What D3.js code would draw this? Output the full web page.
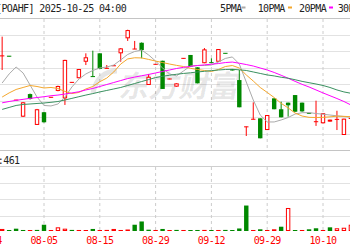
<!DOCTYPE html>
<html>
<head>
<meta charset="utf-8">
<script src="https://cdn.jsdelivr.net/npm/d3@7/dist/d3.min.js"></script>
<style>
  body { margin: 0; background: #fff; }
  svg { display: block; }
  .mono { font-family: "DejaVu Sans Mono", "Liberation Mono", monospace; font-size: 10px; letter-spacing: -0.6px; }
</style>
</head>
<body>
<div id="chart"></div>
<script>
// daily candles, index 0 = 08-05, a date label sits on every 8th candle
var dayIdx = d3.range(-6, 45);

var open  = [41.75, 41.76, 39.07, 38.08, 39.45, 37.58, 38.35, 39.24, 39.64, 39.19, 40.14, 40.41, 41.41, 40.52, 41.92, 40.99, 41.15,
             41.92, 42.83, 42.17, 42.56, 40.00, 41.24, 41.47, 40.35, 39.90, 41.60, 41.82, 41.07, 41.32, 41.36, 41.41, 41.93,
             40.97, 40.30, 37.45, 37.91, 37.98, 37.27, 39.19, 38.53, 38.93, 39.39, 38.93, 38.30, 37.76, 37.68, 37.78, 37.90, 36.97, 37.95];
var high  = [42.93, 41.76, 39.10, 38.97, 39.48, 38.55, 38.36, 39.27, 39.96, 41.53, 40.18, 40.97, 41.92, 42.08, 41.92, 41.21, 41.18,
             42.24, 43.35, 42.67, 42.58, 40.67, 41.27, 41.47, 40.38, 40.10, 41.63, 41.82, 41.07, 42.24, 41.62, 42.18, 41.93,
             40.97, 40.91, 37.48, 38.95, 37.98, 38.18, 39.19, 38.99, 38.93, 39.39, 38.93, 38.30, 39.05, 38.29, 37.90, 38.44, 37.96, 37.99];
var low   = [40.91, 41.73, 39.07, 38.06, 39.12, 37.58, 37.73, 39.24, 39.62, 38.79, 40.14, 40.41, 41.21, 40.50, 40.97, 40.99, 41.15,
             41.41, 42.67, 42.17, 41.62, 40.00, 41.24, 39.76, 40.35, 39.90, 41.60, 41.11, 40.10, 41.32, 41.35, 41.41, 41.91,
             40.88, 38.65, 36.91, 37.91, 36.77, 37.27, 38.53, 38.04, 38.08, 38.38, 38.38, 38.27, 37.52, 37.68, 37.78, 37.27, 36.97, 37.95];
var close = [41.78, 41.73, 39.10, 38.95, 39.15, 38.53, 37.74, 39.27, 39.94, 41.52, 40.18, 40.97, 41.68, 40.50, 40.97, 41.03, 41.18,
             42.22, 43.33, 42.19, 42.12, 40.50, 41.27, 39.76, 40.38, 40.10, 41.63, 41.11, 40.10, 42.16, 41.35, 42.18, 41.91,
             40.88, 38.65, 37.48, 37.94, 36.77, 38.18, 38.53, 38.04, 38.77, 38.38, 38.40, 38.27, 37.79, 38.29, 37.90, 37.93, 37.96, 37.99];
var volume = [150, 70, 170, 75, 70, 80, 460, 65, 270, 170, 80, 75, 70, 150, 70, 80, 150,
              75, 110, 460, 700, 95, 75, 150, 70, 80, 75, 70, 75, 80, 70, 75, 80,
              70, 185, 1870, 75, 125, 70, 125, 315, 1690, 70, 75, 125, 200, 75, 270, 200, 240, 461];

var ma5  = [40.12, 40.67, 41.09, 40.73, 40.00, 39.27, 38.76, 38.73, 38.85, 39.27, 39.88, 40.36, 40.67, 40.88, 41.03, 41.09, 41.21,
            41.52, 41.85, 42.03, 42.12, 41.82, 41.45, 41.03, 40.67, 40.55, 40.85, 41.15, 41.18, 41.18, 41.21, 41.39, 41.61,
            41.70, 41.27, 40.18, 39.09, 38.18, 37.76, 37.76, 37.88, 38.03, 38.24, 38.32, 38.33, 38.27, 38.23, 38.18, 38.13, 38.09, 38.04];
var ma10 = [39.27, 39.52, 39.73, 39.85, 39.97, 39.91, 39.82, 39.85, 39.79, 39.61, 39.48, 39.55, 39.76, 39.91, 40.20, 40.42, 40.79,
            41.27, 41.58, 41.65, 41.64, 41.55, 41.45, 41.36, 41.27, 41.19, 41.12, 41.01, 40.94, 40.88, 40.82, 40.94, 41.12,
            41.18, 41.03, 40.61, 40.24, 39.85, 39.55, 39.24, 38.89, 38.61, 38.30, 38.12, 38.04, 38.03, 38.04, 38.07, 38.11, 38.10, 38.08];
var ma20 = [38.92, 39.00, 39.07, 39.13, 39.19, 39.24, 39.29, 39.35, 39.39, 39.45, 39.52, 39.59, 39.70, 39.79, 39.91, 40.03, 40.15,
            40.27, 40.39, 40.48, 40.56, 40.64, 40.73, 40.82, 40.91, 41.00, 41.07, 41.13, 41.18, 41.22, 41.26, 41.30, 41.36,
            41.39, 41.32, 41.24, 41.15, 41.03, 40.91, 40.76, 40.59, 40.41, 40.22, 40.04, 39.88, 39.70, 39.52, 39.35, 39.18, 39.00, 38.79];
var ma30 = [38.52, 38.64, 38.76, 38.82, 38.85, 38.88, 38.91, 38.95, 39.00, 39.09, 39.19, 39.29, 39.39, 39.48, 39.58, 39.67, 39.76,
            39.85, 39.97, 40.09, 40.21, 40.33, 40.45, 40.53, 40.59, 40.65, 40.70, 40.74, 40.79, 40.83, 40.87, 40.91, 40.94,
            40.95, 40.92, 40.88, 40.79, 40.70, 40.61, 40.55, 40.47, 40.41, 40.32, 40.22, 40.14, 40.06, 39.97, 39.85, 39.70, 39.58, 39.50];

var labelIdx  = [-8, 0, 8, 16, 24, 32, 40];
var labelText = ["07-24", "08-05", "08-15", "08-29", "09-12", "09-29", "10-10"];
var priceTicks = [36, 37, 38, 39, 40, 41, 42, 43, 44];
var legendNames = ["5PMA", "10PMA", "20PMA", "30PMA"];
var titleText = "[POAHF] 2025-10-25 04:00";
var volText = "成交量:461";

var red = "#f00", green = "#008800";
var maColors = ["#aaaaaa", "#f4a72d", "#ff00ff", "#3a9160"];

var svgWidth = 350, svgHeight = 250;

var svg = d3.select("#chart")
  .append("svg")
  .attr("width", svgWidth)
  .attr("height", svgHeight);

var x = d3.scaleLinear().domain([0, 40]).range([44, 323]);
var y = d3.scaleLinear().domain([36, 44]).range([151, 19]);
var yVol = d3.scaleLinear().domain([0, 4700]).range([231, 167]);

var candles = dayIdx.map(function(d, k) {
  return {i: d, o: open[k], h: high[k], l: low[k], c: close[k], v: volume[k],
          volUp: close[k] >= (k > 0 ? close[k - 1] : open[k])};
});

// grid: price panel
svg.append("g").selectAll("line")
  .data(priceTicks)
  .enter()
  .append("line")
  .attr("x1", 0).attr("x2", svgWidth)
  .attr("y1", d => Math.round(y(d)) - 0.5)
  .attr("y2", d => Math.round(y(d)) - 0.5)
  .attr("stroke", d => (d == 36 || d == 44) ? "#c4c4c4" : "#e2e2e2");

// grid: volume panel
svg.append("g").selectAll("line")
  .data([166.5, 183.5, 199.5, 216.5])
  .enter()
  .append("line")
  .attr("x1", 0).attr("x2", svgWidth)
  .attr("y1", d => d).attr("y2", d => d)
  .attr("stroke", (d, k) => k == 0 ? "#cfcfcf" : "#e2e2e2");

// dashed date lines
var dateLines = svg.append("g").selectAll("g")
  .data(labelIdx)
  .enter()
  .append("g");

dateLines.append("line")
  .attr("x1", d => x(d)).attr("x2", d => x(d))
  .attr("y1", 19).attr("y2", 150)
  .attr("stroke", "#cccccc")
  .attr("stroke-dasharray", "3,3");

dateLines.append("line")
  .attr("x1", d => x(d)).attr("x2", d => x(d))
  .attr("y1", 167).attr("y2", 233)
  .attr("stroke", "#cccccc")
  .attr("stroke-dasharray", "3,3");

// watermark
svg.append("path")
  .attr("d", "M93,93 C96,78 105,71 117,71")
  .attr("fill", "none")
  .attr("stroke", "#000")
  .attr("stroke-opacity", 0.1)
  .attr("stroke-width", 5);

svg.append("text")
  .attr("transform", "translate(118,97) skewX(-12)")
  .attr("font-family", "Noto Sans CJK SC")
  .attr("font-weight", "bold")
  .attr("font-size", 30)
  .attr("fill", "#000")
  .attr("fill-opacity", 0.1)
  .text("东方财富");

// candles
var bodyW = 4.4;
var cg = svg.append("g");

cg.selectAll("line")
  .data(candles)
  .enter()
  .append("line")
  .attr("x1", d => x(d.i)).attr("x2", d => x(d.i))
  .attr("y1", d => y(d.h)).attr("y2", d => y(d.l))
  .attr("stroke", d => d.c >= d.o ? red : green);

cg.selectAll("rect")
  .data(candles)
  .enter()
  .append("rect")
  .each(function(d) {
    var top = y(Math.max(d.o, d.c)), bot = y(Math.min(d.o, d.c));
    var up = d.c >= d.o;
    var r = d3.select(this);
    if (bot - top < 1.2) {
      var mid = (top + bot) / 2;
      r.attr("x", x(d.i) - bodyW / 2).attr("y", mid - 0.5)
        .attr("width", bodyW).attr("height", 1)
        .attr("fill", up ? red : green);
    } else if (up) {
      r.attr("x", x(d.i) - bodyW / 2 + 0.5).attr("y", top + 0.5)
        .attr("width", bodyW - 1).attr("height", bot - top - 1)
        .attr("fill", "#fff").attr("stroke", red);
    } else {
      r.attr("x", x(d.i) - bodyW / 2).attr("y", top)
        .attr("width", bodyW).attr("height", bot - top)
        .attr("fill", green);
    }
  });

// moving averages
[ma5, ma10, ma20, ma30].forEach(function(series, s) {
  var line = d3.line()
    .x((d, k) => x(dayIdx[k]))
    .y(d => y(d));
  svg.append("path")
    .datum(series)
    .attr("d", line)
    .attr("fill", "none")
    .attr("stroke", maColors[s])
    .attr("stroke-width", 1);
});

// volume bars
svg.append("g").selectAll("rect")
  .data(candles)
  .enter()
  .append("rect")
  .each(function(d) {
    var h = Math.max(1, 231 - yVol(d.v));
    var r = d3.select(this);
    if (d.volUp && h > 2) {
      r.attr("x", x(d.i) - bodyW / 2 + 0.5).attr("y", 231 - h + 0.5)
        .attr("width", bodyW - 1).attr("height", h - 1)
        .attr("fill", "#fff").attr("stroke", red);
    } else {
      r.attr("x", x(d.i) - bodyW / 2).attr("y", 231 - h)
        .attr("width", bodyW).attr("height", h)
        .attr("fill", d.volUp ? red : green);
    }
  });

// date labels
svg.append("g").selectAll("text")
  .data(labelIdx)
  .enter()
  .append("text")
  .attr("class", "mono")
  .attr("x", d => x(d))
  .attr("y", 244)
  .attr("text-anchor", "middle")
  .attr("fill", red)
  .text((d, k) => labelText[k]);

// title, volume caption
svg.append("text")
  .attr("class", "mono")
  .attr("x", -4)
  .attr("y", 11.5)
  .attr("fill", "#222")
  .text(titleText);

svg.append("text")
  .attr("class", "mono")
  .attr("x", 19.5)
  .attr("y", 163.5)
  .attr("text-anchor", "end")
  .attr("fill", "#222")
  .text(volText);

// legend
var legendX = [220, 257.7, 299, 337.7];
var dashX = [241.5, 288, 329, 369];
var legend = svg.append("g").selectAll("g")
  .data(legendNames)
  .enter()
  .append("g");

legend.append("text")
  .attr("class", "mono")
  .attr("x", (d, k) => legendX[k])
  .attr("y", 11.5)
  .attr("fill", "#222")
  .text(d => d);

legend.append("rect")
  .attr("x", (d, k) => dashX[k])
  .attr("y", 6.5)
  .attr("width", 4)
  .attr("height", 2)
  .attr("fill", (d, k) => maColors[k]);
</script>
</body>
</html>
